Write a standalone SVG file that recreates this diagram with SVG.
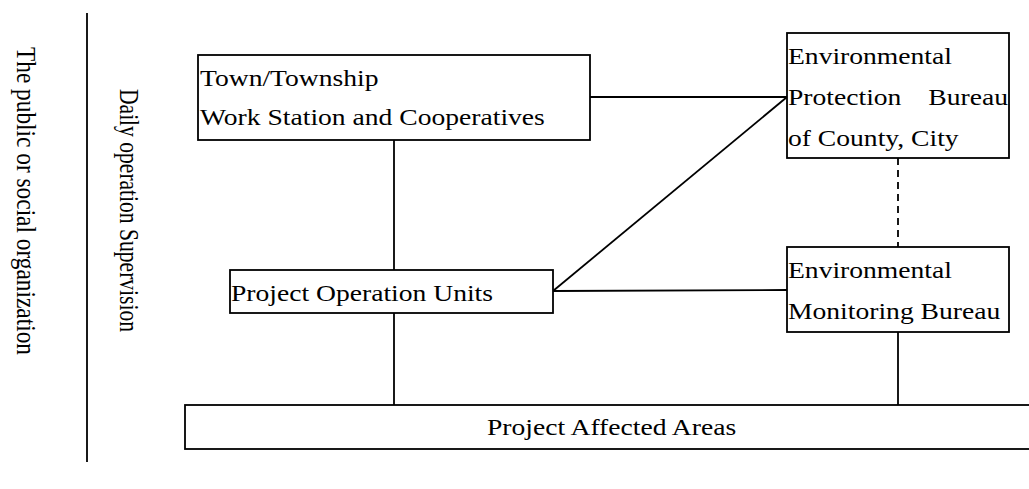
<svg xmlns="http://www.w3.org/2000/svg" width="1029" height="489" viewBox="0 0 1029 489">
<style>
.box{fill:#fff;stroke:#000;stroke-width:1.8}
.ln{stroke:#000;stroke-width:1.8;fill:none}
.dash{stroke-dasharray:7 5}
text{font-family:"Liberation Serif","Times New Roman",serif;font-size:23px;fill:#000}
</style>
<rect width="1029" height="489" fill="#fff"/>
<g id="connectors">
<line class="ln" x1="87" y1="13" x2="87" y2="462"/>
<line class="ln" x1="590" y1="97" x2="787" y2="97"/>
<line class="ln" x1="553" y1="291" x2="787" y2="97"/>
<line class="ln" x1="553" y1="291" x2="787" y2="290"/>
<line class="ln" x1="394" y1="140" x2="394" y2="270"/>
<line class="ln dash" x1="898" y1="158" x2="898" y2="247"/>
<line class="ln" x1="394" y1="313" x2="394" y2="405"/>
<line class="ln" x1="898" y1="332" x2="898" y2="405"/>
</g>
<g id="label-public">
<text transform="translate(17,47) scale(1.2,1) rotate(90)" textLength="308" lengthAdjust="spacingAndGlyphs">The public or social organization</text>
</g>
<g id="label-daily">
<text transform="translate(120,89) scale(1.2,1) rotate(90)" textLength="243" lengthAdjust="spacingAndGlyphs">Daily operation Supervision</text>
</g>
<g id="town">
<rect class="box" x="198" y="55" width="392" height="85"/>
<text transform="translate(200,86) scale(1.2,1)">Town/Township</text>
<text transform="translate(200,125) scale(1.2,1)">Work Station and Cooperatives</text>
</g>
<g id="epb">
<rect class="box" x="787" y="33" width="222" height="125"/>
<text transform="translate(788,64) scale(1.2,1)">Environmental</text>
<text transform="translate(788,105) scale(1.2,1)">Protection</text>
<text transform="translate(1008,105) scale(1.2,1)" text-anchor="end">Bureau</text>
<text transform="translate(788,146) scale(1.2,1)">of County, City</text>
</g>
<g id="pou">
<rect class="box" x="230" y="270" width="323" height="43"/>
<text transform="translate(231,301) scale(1.2,1)">Project Operation Units</text>
</g>
<g id="emb">
<rect class="box" x="787" y="247" width="222" height="85"/>
<text transform="translate(788,278) scale(1.2,1)">Environmental</text>
<text transform="translate(788,319) scale(1.2,1)">Monitoring Bureau</text>
</g>
<g id="affected">
<rect class="box" x="185" y="405" width="860" height="44"/>
<text transform="translate(487,435) scale(1.2,1)">Project Affected Areas</text>
</g>
</svg>
